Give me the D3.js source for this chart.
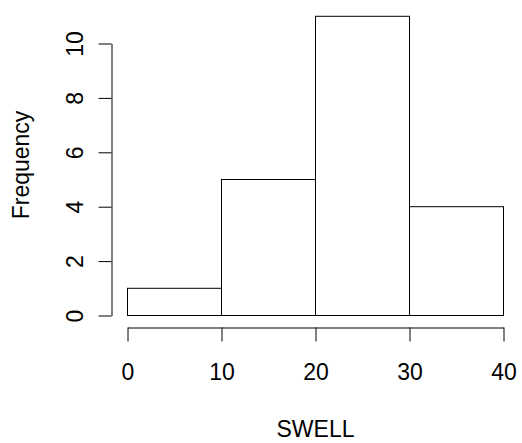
<!DOCTYPE html>
<html>
<head>
<meta charset="utf-8">
<script src="https://cdn.jsdelivr.net/npm/d3@7"></script>
<style>
html,body{margin:0;padding:0;background:#fff;}
svg{display:block;}
text{font-family:"Liberation Sans",Arial,sans-serif;fill:#000;}
</style>
</head>
<body>
<script>
const binStarts = [0, 10, 20, 30];
const binEnds = [10, 20, 30, 40];
const frequencies = [1, 5, 11, 4];
const xTicks = [0, 10, 20, 30, 40];
const yTicks = [0, 2, 4, 6, 8, 10];
const xLabel = "SWELL";
const yLabel = "Frequency";

const W = 522, H = 443;
const svg = d3.select("body").append("svg").attr("width", W).attr("height", H);

const x = d3.scaleLinear().domain([0, 40]).range([127.5, 503.5]);
const y = d3.scaleLinear().domain([0, 10]).range([315.5, 43.5]);
const fs = 23;

svg.append("g").selectAll("rect")
  .data(binStarts.map((s, i) => ({s, e: binEnds[i], f: frequencies[i]})))
  .join("rect")
  .attr("x", d => x(d.s))
  .attr("y", d => y(d.f))
  .attr("width", d => x(d.e) - x(d.s))
  .attr("height", d => y(0) - y(d.f))
  .attr("fill", "none")
  .attr("stroke", "#000")
  .attr("stroke-width", 1);

// x axis
const gx = svg.append("g").attr("transform", "translate(0,327.5)")
  .call(d3.axisBottom(x).tickValues(xTicks).tickSizeOuter(0).tickSizeInner(14).tickPadding(0).tickFormat(d3.format("d")));
gx.select(".domain").attr("stroke", "#000");
gx.selectAll(".tick line").attr("stroke", "#000");
gx.selectAll(".tick text").attr("font-size", fs).attr("font-family", "Liberation Sans, Arial, sans-serif")
  .attr("dy", null).attr("y", 52.5).attr("fill", "#000");

// y axis
const gy = svg.append("g").attr("transform", "translate(111.5,0)")
  .call(d3.axisLeft(y).tickValues(yTicks).tickSizeOuter(0).tickSizeInner(13).tickPadding(0).tickFormat(d3.format("d")));
gy.select(".domain").attr("stroke", "#000");
gy.selectAll(".tick line").attr("stroke", "#000");
gy.selectAll(".tick text").attr("font-size", fs).attr("font-family", "Liberation Sans, Arial, sans-serif")
  .attr("x", null).attr("dy", null).attr("text-anchor", "middle")
  .attr("transform", "translate(-28.5,0) rotate(-90)").attr("fill", "#000");

svg.append("text").attr("x", 315.5).attr("y", 436.5).attr("text-anchor", "middle")
  .attr("font-size", fs).text(xLabel);
svg.append("text").attr("transform", "translate(29,165) rotate(-90)").attr("text-anchor", "middle")
  .attr("font-size", fs).text(yLabel);
</script>
</body>
</html>
